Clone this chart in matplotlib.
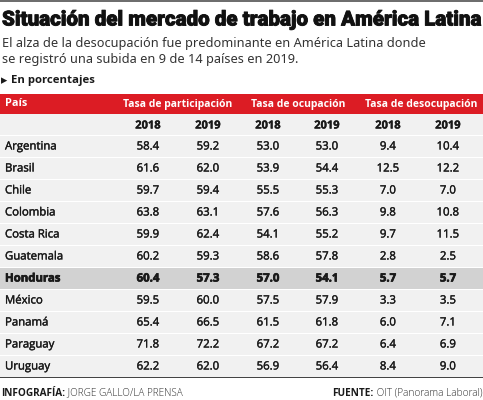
import matplotlib.pyplot as plt
import matplotlib.patheffects as pe
from matplotlib.patches import Rectangle

countries = ["Argentina", "Brasil", "Chile", "Colombia", "Costa Rica", "Guatemala",
             "Honduras", "México", "Panamá", "Paraguay", "Uruguay"]
part_2018 = [58.4, 61.6, 59.7, 63.8, 59.9, 60.2, 60.4, 59.5, 65.4, 71.8, 62.2]
part_2019 = [59.2, 62.0, 59.4, 63.1, 62.4, 59.3, 57.3, 60.0, 66.5, 72.2, 62.0]
ocup_2018 = [53.0, 53.9, 55.5, 57.6, 54.1, 58.6, 57.0, 57.5, 61.5, 67.2, 56.9]
ocup_2019 = [53.0, 54.4, 55.3, 56.3, 55.2, 57.8, 54.1, 57.9, 61.8, 67.2, 56.4]
desoc_2018 = [9.4, 12.5, 7.0, 9.8, 9.7, 2.8, 5.7, 3.3, 6.0, 6.4, 8.4]
desoc_2019 = [10.4, 12.2, 7.0, 10.8, 11.5, 2.5, 5.7, 3.5, 7.1, 6.9, 9.0]
groups = ["Tasa de participación", "Tasa de ocupación", "Tasa de desocupación"]
years = ["2018", "2019"]
highlight = "Honduras"

RED = "#dc1c24"
ROW_BG = "#f1f1f1"
HL_BG = "#d2d2d2"
TXT = "#1a1a1a"

plt.rcParams['font.family'] = ['Open Sans', 'DejaVu Sans']

# fake heavier weights with a thin stroke
medium = [pe.withStroke(linewidth=0.25, foreground=TXT)]
heavy = [pe.withStroke(linewidth=0.5, foreground=TXT)]

fig = plt.figure(figsize=(4.83, 4.00), dpi=100)
ax = fig.add_axes([0, 0, 1, 1])
ax.set_xlim(0, 483)
ax.set_ylim(400, 0)
ax.axis('off')

# top rule
ax.add_patch(Rectangle((0, 0), 483, 2, color="#6e6e6e", lw=0))

# title and subtitle
ax.text(2, 20, "Situación del mercado de trabajo en América Latina", fontsize=14.8,
        fontweight='heavy', family=['Roboto', 'DejaVu Sans'], fontstretch='condensed',
        color="#111111", va='center', ha='left',
        path_effects=[pe.withStroke(linewidth=0.6, foreground="#111111")])
ax.text(2, 44, "El alza de la desocupación fue predominante en América Latina donde",
        fontsize=9.2, color="#333333", va='center', family=['Noto Sans', 'DejaVu Sans'])
ax.text(2, 60, "se registró una subida en 9 de 14 países en 2019.",
        fontsize=9.2, color="#333333", va='center', family=['Noto Sans', 'DejaVu Sans'])
ax.text(1, 81, "▸", fontsize=9, color=TXT, va='center', family=['DejaVu Sans'])
ax.text(11, 81, "En porcentajes", fontsize=8.2, fontweight='bold', color=TXT, va='center')

# header band
row_h = 22
ax.add_patch(Rectangle((0, 94), 483, 20, color=RED, lw=0))
ax.text(5, 104, "País", color="white", fontsize=7.8, fontweight='bold', va='center')
col_x = [148, 208, 268, 327, 388, 448]
group_x = [178, 298, 421]
for g, gx in zip(groups, group_x):
    ax.text(gx, 104, g, color="white", fontsize=7.5, fontweight='bold', va='center', ha='center')

# year row
top = 114
ax.add_patch(Rectangle((0, top), 483, row_h - 1.5, color=ROW_BG, lw=0))
for i, cx in enumerate(col_x):
    ax.text(cx, top + row_h / 2 + 1, years[i % 2], fontsize=8, fontweight='bold',
            color=TXT, va='center', ha='center', path_effects=medium)

# data rows
cols = [part_2018, part_2019, ocup_2018, ocup_2019, desoc_2018, desoc_2019]
for r, name in enumerate(countries):
    y0 = top + row_h * (r + 1)
    hl = name == highlight
    ax.add_patch(Rectangle((0, y0), 483, row_h - 1.5, color=HL_BG if hl else ROW_BG, lw=0))
    yc = y0 + row_h / 2
    effects = heavy if hl else medium
    ax.text(5, yc, name, fontsize=8.2, fontweight='bold' if hl else 'normal', color=TXT,
            va='center', path_effects=effects)
    for cx, vals in zip(col_x, cols):
        ax.text(cx, yc, f"{vals[r]:.1f}", fontsize=8.2, fontweight='bold' if hl else 'normal',
                color=TXT, va='center', ha='center', path_effects=effects)

bottom = top + row_h * (len(countries) + 1)
ax.add_patch(Rectangle((0, bottom - 1.5), 483, 1.5, color="#444444", lw=0))

# footer
t1 = ax.text(1, 393, "INFOGRAFÍA:", fontsize=7.2, fontweight='bold', color=TXT, va='center')
ax.annotate(" JORGE GALLO/LA PRENSA", xy=(1, 0.5), xycoords=t1, fontsize=7.2,
            fontweight='light', color="#333333", va='center', ha='left')
t2 = ax.text(482, 393, " OIT (Panorama Laboral)", fontsize=7.2, fontweight='light',
             color="#333333", va='center', ha='right')
ax.annotate("FUENTE:", xy=(0, 0.5), xycoords=t2, fontsize=7.2, fontweight='bold',
            color=TXT, va='center', ha='right')

fig.savefig("out.png", dpi=100)
